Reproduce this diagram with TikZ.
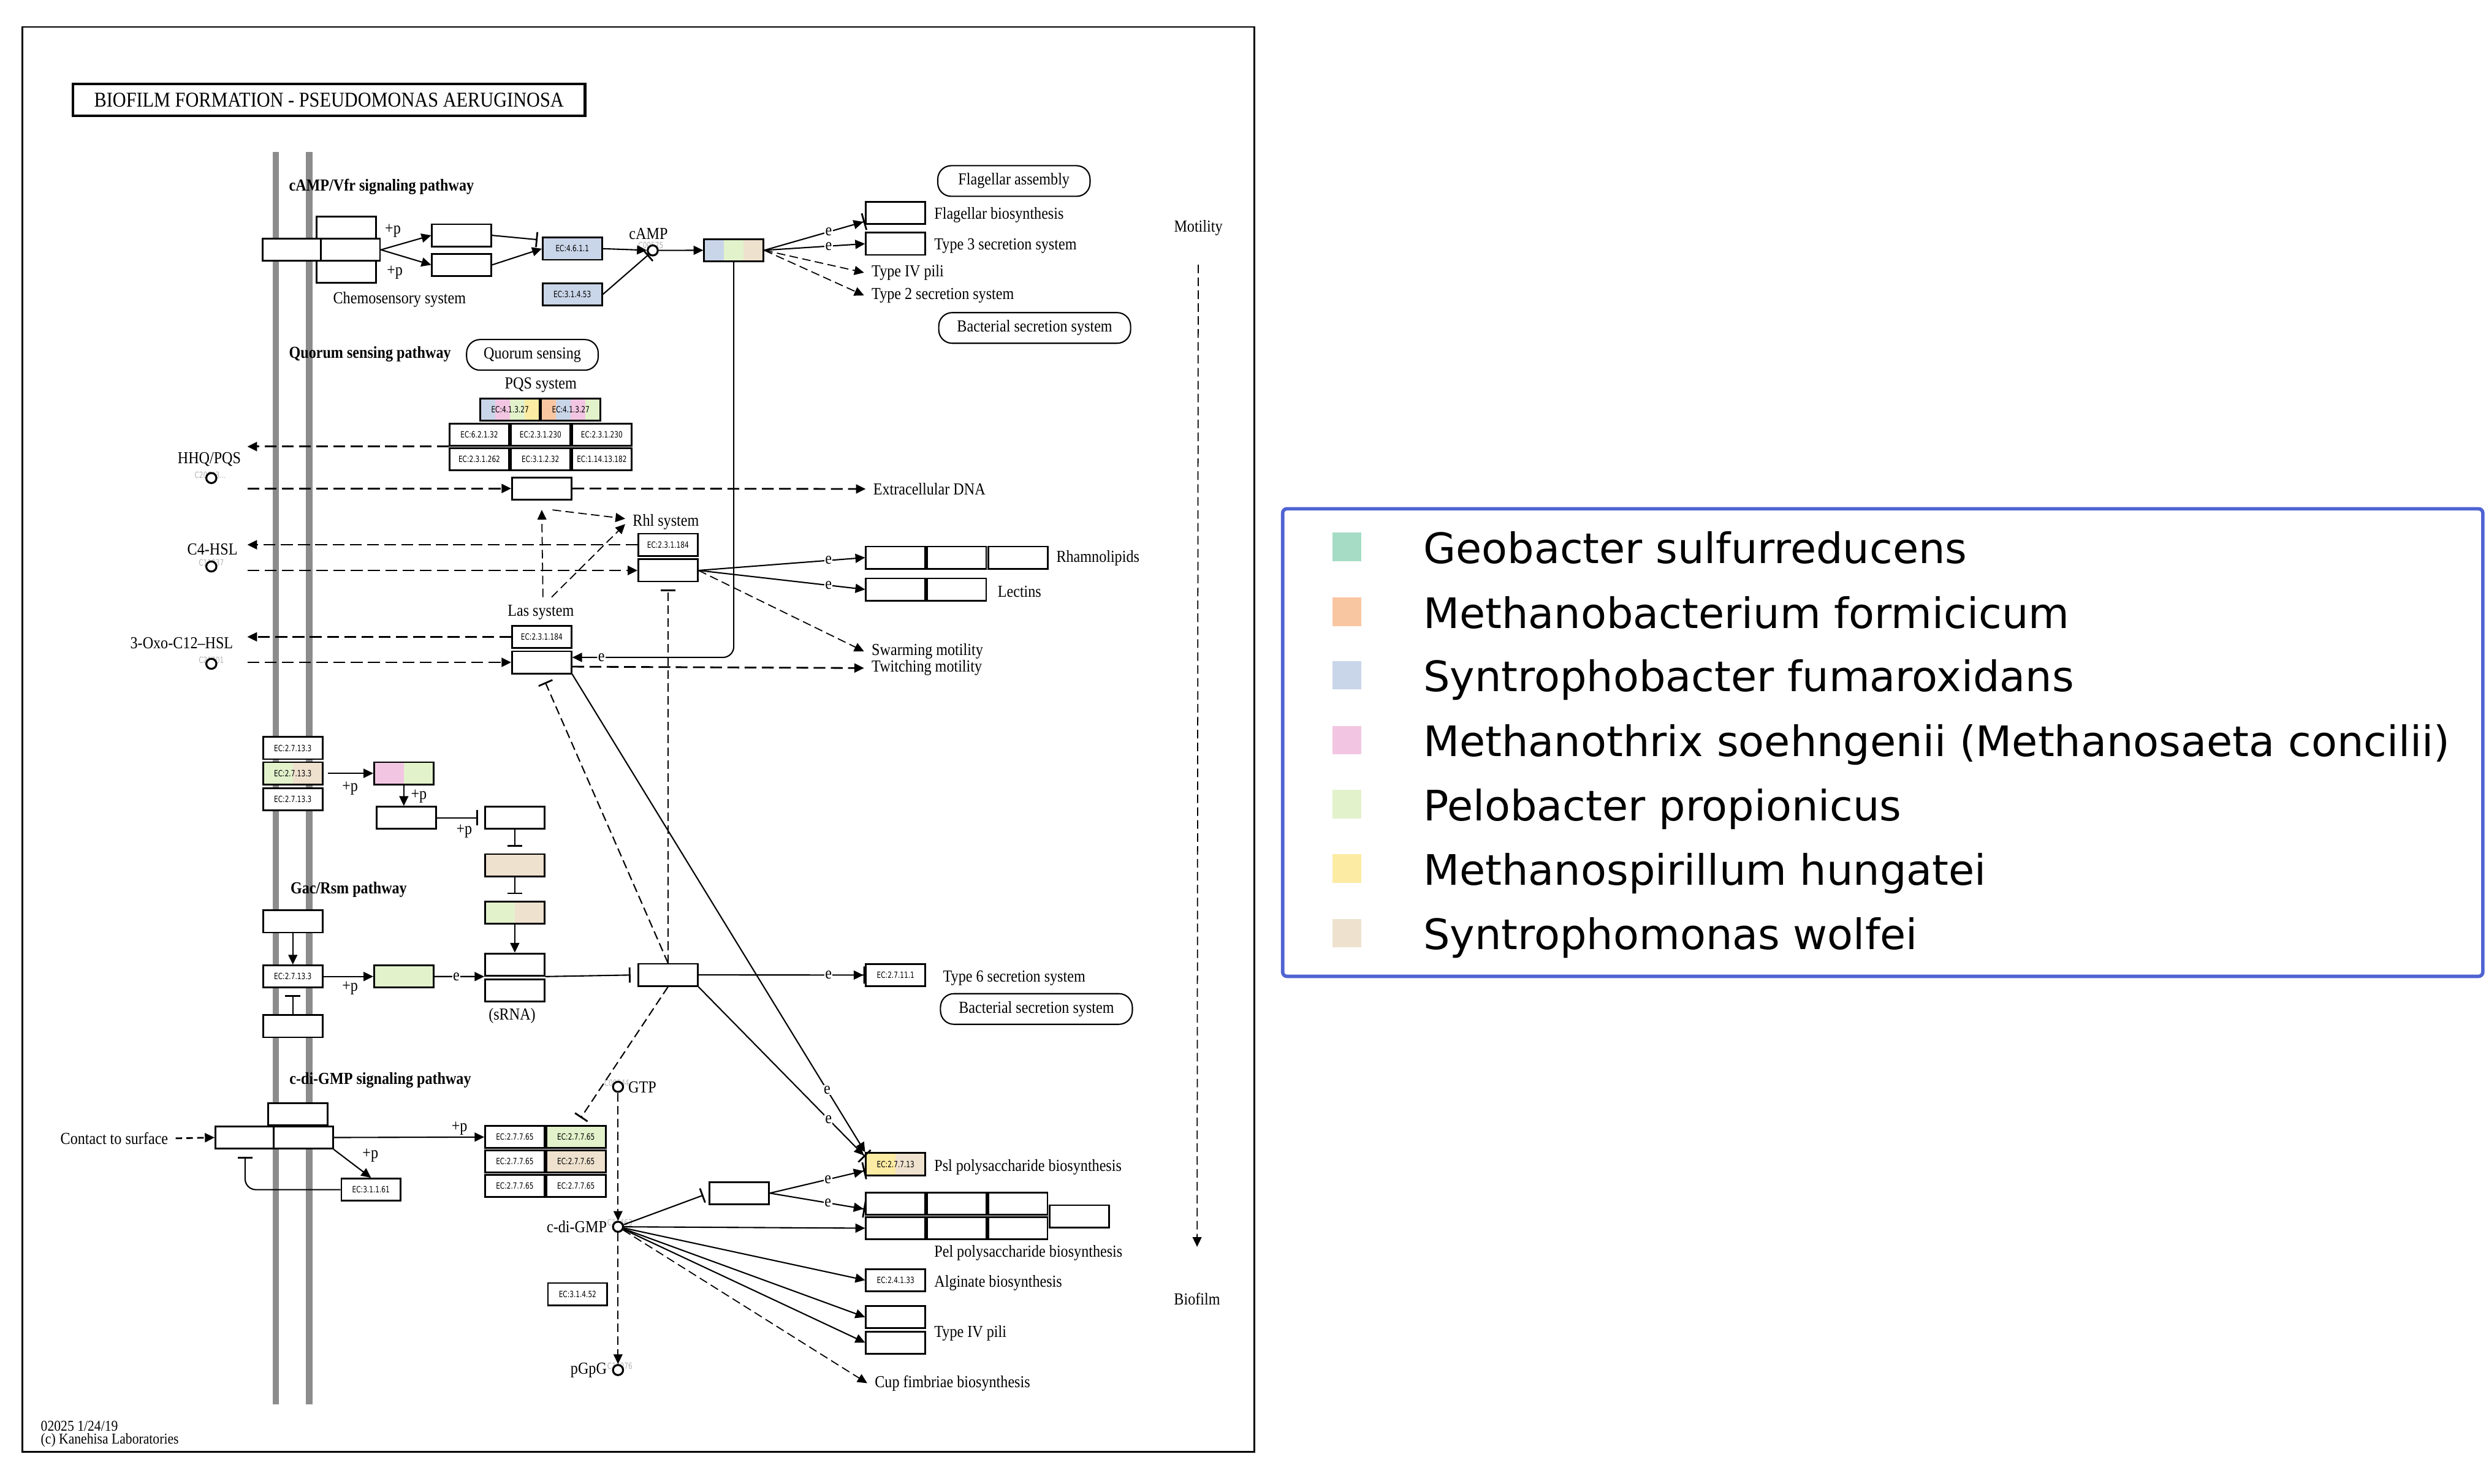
\documentclass[tikz,border=0pt]{standalone}
\usepackage{fontspec}
\setmainfont[FakeStretch=0.88]{Liberation Serif}
\newfontfamily\ecfamily[FakeStretch=0.75]{DejaVu Sans}
\newfontfamily\legfamily{DejaVu Sans}
\usetikzlibrary{arrows.meta,calc,positioning}

\newcommand{\kegg}{\fontsize{7.8}{9}\selectfont}
\newcommand{\keggb}{\fontsize{7.8}{9}\selectfont\bfseries}
\newcommand{\ecf}{\fontsize{4}{4.5}\selectfont\ecfamily}
\newcommand{\legf}{\fontsize{19.5}{22}\selectfont\legfamily}

\definecolor{gsu}{HTML}{A6DCC5}
\definecolor{mfi}{HTML}{F9C6A2}
\definecolor{sfu}{HTML}{C9D5E8}
\definecolor{mcj}{HTML}{F2C6E2}
\definecolor{ppd}{HTML}{E2F2CB}
\definecolor{mhu}{HTML}{FCEBA2}
\definecolor{swo}{HTML}{EEE1CE}
\definecolor{membgray}{HTML}{8C8C8C}
\definecolor{legblue}{HTML}{4F63D2}

\tikzset{
  gbox/.style={draw,line width=0.8pt,fill=white,minimum width=0.9675cm,minimum height=0.362cm,inner sep=0pt,font=\ecf},
  cpd/.style={circle,draw,line width=0.9pt,fill=white,minimum size=0.165cm,inner sep=0pt},
  pill/.style={draw,line width=0.6pt,rounded corners=0.22cm,minimum height=0.5cm,inner sep=2pt},
  memb/.style={draw=membgray,line width=3pt},
  act/.style={line width=0.6pt,-{Triangle[length=4.5pt,width=4.2pt]}},
  actbar/.style={line width=0.6pt,-{Triangle[length=4.5pt,width=4.2pt]Bar[width=8pt,line width=0.8pt]}},
  dact/.style={act,line width=0.8pt,dash pattern=on 5.5pt off 2.5pt},
  dactf/.style={act,line width=0.5pt,dash pattern=on 4pt off 2pt},
  inh/.style={line width=0.6pt,-{Bar[width=7pt,line width=0.8pt]}},
  dinh/.style={inh,dash pattern=on 4pt off 2pt},
  elab/.style={fill=white,inner sep=0.4pt,font=\kegg},
  cid/.style={font=\ecf,text=black!30,inner sep=0pt},
  swatch/.style={minimum size=0.466cm,inner sep=0pt},
  legtxt/.style={anchor=base west,font=\legf,inner sep=0pt},
  stripes/.style={path picture={
    \foreach \col [count=\k] in {#1} {\global\let\nstripe\k}
    \foreach \col [count=\k] in {#1} {
      \fill[\col] ($(path picture bounding box.south west)!{(\k-1)/\nstripe}!(path picture bounding box.south east)$)
        rectangle ($(path picture bounding box.north west)!{\k/\nstripe}!(path picture bounding box.north east)$);
    }}}
}

\begin{document}
\begin{tikzpicture}[x=0.02587cm,y=-0.02587cm,font=\kegg]
\useasboundingbox (0,0) rectangle (1568,936);
\draw[line width=0.8pt] (14,17) rectangle (791,916);
\node[draw,line width=1.3pt,minimum width=8.356cm,minimum height=0.517cm,font=\fontsize{9.8}{11}\selectfont] (title) at (207.5,63) {BIOFILM FORMATION - PSEUDOMONAS AERUGINOSA};
\draw[memb] (174,96) -- (174,886);
\draw[memb] (195,96) -- (195,886);

\node[anchor=west,font=\keggb] (camptitle) at (177.5,118) {cAMP/Vfr signaling pathway};
\node[gbox] (chu) at (218.5,143.5) {};
\node[gbox] (chl) at (218.5,171.5) {};
\node[gbox] (cha) at (184.5,157.6) {};
\node[gbox] (chb) at (221,157.6) {};
\node (chemo) at (252,189) {Chemosensory system};
\node[gbox] (chc) at (291.2,148.5) {};
\node[gbox] (chd) at (291.2,167.1) {};
\node (p1) at (247.8,145.7) {+p};
\node (p2) at (249,172) {+p};
\node[gbox,fill=sfu] (ac) at (361,156.9) {EC:4.6.1.1};
\node[gbox,fill=sfu] (pde) at (361,185.7) {EC:3.1.4.53};
\node[cid] (campid) at (410.5,154.6) {C00575};
\node[cpd] (camp) at (411.7,158) {};
\node (camplab) at (409,147.7) {cAMP};
\node[gbox,stripes={sfu,ppd,swo}] (vfr) at (462.8,157.9) {};
\draw[act] (chb.east) -- (chc.west);
\draw[act] (chb.east) -- (chd.west);
\draw[inh,shorten >=2pt] (chc.east) -- ([yshift=4pt]ac.west);
\draw[act] (chd.east) -- (ac.west);
\draw[act] (ac.east) -- (camp);
\draw[inh] (pde.east) -- (camp.south west);
\draw[act] (camp) -- (vfr.west);

\node[gbox] (flag) at (564.8,134.4) {};
\node[gbox] (t3ss) at (564.8,153.8) {};
\node[anchor=west] (flagt) at (584.5,135.5) {Flagellar biosynthesis};
\node[anchor=west] (t3sst) at (584.5,155.3) {Type 3 secretion system};
\node[anchor=west] (t4pt) at (545,172) {Type IV pili};
\node[anchor=west] (t2sst) at (545,186.4) {Type 2 secretion system};
\node[pill,minimum width=2.484cm] (flagas) at (639.5,114.2) {Flagellar assembly};
\node[pill,minimum width=3.13cm] (bss1) at (652.6,206.9) {Bacterial secretion system};
\draw[actbar] (vfr.east) -- ([yshift=-3.9pt]flag.west) node[elab,pos=0.64] {e};
\draw[act] (vfr.east) -- (t3ss.west) node[elab,pos=0.64] {e};
\draw[dactf] (vfr.east) -- (t4pt.west);
\draw[dactf] (vfr.east) -- (t2sst.west);
\node (mot) at (755.8,143.7) {Motility};
\node (bio) at (755,819.7) {Biofilm};
\draw[dactf,shorten <=10pt,shorten >=18pt] (mot) -- (bio);

\node[anchor=west,font=\keggb] (qstitle) at (177.5,223.4) {Quorum sensing pathway};
\node[pill,minimum width=2.147cm] (qs) at (335.8,223.9) {Quorum sensing};
\node (pqst) at (341.1,243) {PQS system};
\node[gbox,stripes={sfu,mcj,ppd,mhu}] (pqsa) at (321.7,258.4) {EC:4.1.3.27};
\node[gbox,stripes={mfi,sfu,mcj,ppd}] (pqsb) at (360,258.4) {EC:4.1.3.27};
\node[gbox] (g11) at (302.3,274.2) {EC:6.2.1.32};
\node[gbox] (g12) at (340.9,274.2) {EC:2.3.1.230};
\node[gbox] (g13) at (379.6,274.2) {EC:2.3.1.230};
\node[gbox] (g21) at (302.3,289.8) {EC:2.3.1.262};
\node[gbox] (g22) at (340.9,289.8) {EC:3.1.2.32};
\node[gbox] (g23) at (379.6,289.8) {EC:1.14.13.182};
\node[gbox] (pqsr) at (341.7,308.2) {};
\node[anchor=west] (edna) at (546,308.5) {Extracellular DNA};
\coordinate (lft) at (156,0);
\node (hhqt) at (132,289.8) {HHQ/PQS};
\node[cid] (hhqid) at (132.6,299.6) {C20643...};
\node[cpd] (hhq) at (133.3,301.6) {};
\draw[dact] (g11.south west) -- (g11.south west -| lft);
\draw[dact] (pqsr.west -| lft) -- (pqsr.west);
\draw[dact] (pqsr.east) -- (edna.west);

\node (rhlt) at (420,329.3) {Rhl system};
\node[gbox] (rhl1) at (421.3,343.7) {EC:2.3.1.184};
\node[gbox] (rhl2) at (421.3,359.9) {};
\node (c4t) at (134,346.6) {C4-HSL};
\node[cid] (c4id) at (133.3,355) {C11837};
\node[cpd] (c4) at (133.3,357.4) {};
\draw[dact] (rhl1.west) -- (rhl1.west -| lft);
\draw[dact] (rhl2.west -| lft) -- (rhl2.west);

\node (last) at (341.1,386.2) {Las system};
\node[gbox] (las1) at (341.7,401.8) {EC:2.3.1.184};
\node[gbox] (las2) at (341.7,417.9) {};
\node (oxot) at (114.6,405.8) {3-Oxo-C12--HSL};
\node[cid] (oxoid) at (133.3,416.4) {C21201};
\node[cpd] (oxo) at (133.3,418.8) {};
\draw[dact] (las1.west) -- (las1.west -| lft);
\draw[dact] (las2.west -| lft) -- (las2.west);
\draw[dactf] ([xshift=1pt]last.north) -- ([yshift=-4.4pt]pqsr.south);
\draw[dactf] ([xshift=5pt]last.north) -- ([yshift=-1pt]rhlt.west);
\draw[dactf] ([xshift=5pt,yshift=-4.4pt]pqsr.south) -- ([yshift=1.5pt]rhlt.west);

\node[gbox] (rh1) at (564.9,351.8) {};
\node[gbox] (rh2) at (603.3,351.8) {};
\node[gbox] (rh3) at (642.2,351.8) {};
\node[anchor=west] (rht) at (661.5,352) {Rhamnolipids};
\node[gbox] (le1) at (564.9,371.9) {};
\node[gbox] (le2) at (603.3,371.9) {};
\node[anchor=west] (let) at (624.5,373.4) {Lectins};
\node[anchor=west] (swt) at (545,411) {Swarming motility};
\node[anchor=west] (twt) at (545,421.5) {Twitching motility};
\draw[act] (rhl2.east) -- (rh1.west) node[elab,pos=0.78] {e};
\draw[act] (rhl2.east) -- (le1.west) node[elab,pos=0.78] {e};
\draw[dactf] (rhl2.east) -- (swt.west);
\draw[dact] ([yshift=-2pt]las2.east) -- (twt.west);
\draw[act,rounded corners=5pt] (vfr.south) |- ([yshift=2.3pt]las2.east) node[elab,pos=0.91] {e};

\node[gbox] (gk1) at (184.7,472) {EC:2.7.13.3};
\node[gbox,stripes={ppd,swo}] (gk2) at (184.7,487.9) {EC:2.7.13.3};
\node[gbox] (gk3) at (184.7,504.2) {EC:2.7.13.3};
\node[gbox,stripes={mcj,ppd}] (gpg) at (254.7,487.9) {};
\node[gbox] (gb1) at (256.3,516) {};
\node[gbox] (gb2) at (324.7,516) {};
\node[gbox,fill=swo] (gtan) at (324.7,545.9) {};
\node[gbox,stripes={ppd,swo}] (ggt) at (324.7,575.8) {};
\node[gbox] (srna1) at (324.7,608.6) {};
\node[gbox] (srna2) at (324.7,624.9) {};
\node (srnat) at (323,641) {(sRNA)};
\node[anchor=west,font=\keggb] (gactitle) at (178.5,561.2) {Gac/Rsm pathway};
\node[gbox] (gm1) at (184.7,581.4) {};
\node[gbox] (gk4) at (184.7,616.1) {EC:2.7.13.3};
\node[gbox] (gm2) at (184.7,647.5) {};
\node[gbox,fill=ppd] (ggr) at (254.7,616.1) {};
\node[gbox] (t6reg) at (421.3,615.1) {};
\node[gbox] (t6ec) at (564.9,615.2) {EC:2.7.11.1};
\node[anchor=west] (t6t) at (590,617) {Type 6 secretion system};
\node[pill,minimum width=3.13cm] (bss2) at (653.7,636.6) {Bacterial secretion system};
\node (p3) at (220.8,497.4) {+p};
\node (p4) at (264.2,502.5) {+p};
\node (p5) at (292.8,524.4) {+p};
\node (p6) at (220.8,623.6) {+p};
\draw[act] ([xshift=2pt]gk2.east) -- (gpg.west);
\draw[act] (gpg.south) -- (gpg.south |- gb1.north);
\draw[inh,shorten >=3pt] (gb1.east) -- (gb2.west);
\draw[inh,shorten >=3pt] (gb2.south) -- (gtan.north);
\draw[inh,shorten >=3pt] (gtan.south) -- (ggt.north);
\draw[act] (ggt.south) -- (srna1.north);
\draw[act] (gm1.south) -- (gk4.north);
\draw[inh,shorten >=3pt] (gm2.north) -- (gk4.south);
\draw[act] (gk4.east) -- (ggr.west);
\draw[act] (ggr.east) -- (srna1.south west) node[elab,pos=0.44] {e};
\draw[inh,shorten >=3.2pt] (srna1.south east) -- (t6reg.west);
\draw[actbar] (t6reg.east) -- (t6ec.west) node[elab,pos=0.78] {e};
\draw[dinh,shorten >=3.2pt] (t6reg.north) -- (rhl2.south);
\draw[dinh,shorten >=4pt] (t6reg.north) -- (las2.south);

\node[anchor=west,font=\keggb] (cdgtitle) at (177.8,681.7) {c-di-GMP signaling pathway};
\node[gbox] (cu) at (187.8,703) {};
\node[gbox] (cw1) at (154.6,717.7) {};
\node[gbox] (cw2) at (191.3,717.7) {};
\node[anchor=east] (cts) at (110.8,718.2) {Contact to surface};
\node[gbox] (dge) at (234,750.6) {EC:3.1.1.61};
\node[gbox] (dg11) at (324.7,717.4) {EC:2.7.7.65};
\node[gbox,fill=ppd] (dg12) at (363.3,717.4) {EC:2.7.7.65};
\node[gbox] (dg21) at (324.7,732.8) {EC:2.7.7.65};
\node[gbox,fill=swo] (dg22) at (363.3,732.8) {EC:2.7.7.65};
\node[gbox] (dg31) at (324.7,748.2) {EC:2.7.7.65};
\node[gbox] (dg32) at (363.3,748.2) {EC:2.7.7.65};
\node (p7) at (289.8,712.1) {+p};
\node (p8) at (233.6,729) {+p};
\node[cid] (gtpid) at (389,683.2) {C00044};
\node[cpd] (gtp) at (389.8,685.7) {};
\node[anchor=west] (gtpt) at (391.5,686) {GTP};
\node[cid] (cdgid) at (391,771.5) {C16463};
\node[cpd] (cdg) at (389.8,774) {};
\node[anchor=east] (cdgt) at (387.5,774) {c-di-GMP};
\node[cid] (pgpgid) at (391,862) {C18076};
\node[cpd] (pgpg) at (389.8,864.4) {};
\node[anchor=east] (pgpgt) at (387.5,864.4) {pGpG};
\node[gbox] (pde2) at (364.3,816.5) {EC:3.1.4.52};
\node[gbox] (ub) at (466.3,752.8) {};
\node[gbox,stripes={mhu,swo}] (psl) at (564.9,734.5) {EC:2.7.7.13};
\node[anchor=west] (pslt) at (584.5,736.4) {Psl polysaccharide biosynthesis};
\node[gbox] (pel11) at (564.9,759.5) {};
\node[gbox] (pel12) at (603.4,759.5) {};
\node[gbox] (pel13) at (642,759.5) {};
\node[gbox] (pel21) at (564.9,774.9) {};
\node[gbox] (pel22) at (603.4,774.9) {};
\node[gbox] (pel23) at (642,774.9) {};
\node[gbox] (pelx) at (680.7,767.4) {};
\node[anchor=west] (pelt) at (584.5,790.7) {Pel polysaccharide biosynthesis};
\node[gbox] (alg) at (564.9,807.7) {EC:2.4.1.33};
\node[anchor=west] (algt) at (584.5,809.5) {Alginate biosynthesis};
\node[gbox] (t4a) at (564.9,831) {};
\node[gbox] (t4b) at (564.9,847.1) {};
\node[anchor=west] (t4t) at (584.5,841) {Type IV pili};
\node[anchor=west] (cupt) at (547,872.7) {Cup fimbriae biosynthesis};
\draw[dact,dash pattern=on 3pt off 2pt] (cts.east) -- (cw1.west);
\draw[act] (cw2.east) -- (dg11.west);
\draw[act] (cw2.south east) -- (dge.north);
\draw[inh,rounded corners=5pt,shorten >=3.4pt] (dge.west) -| (cw1.south);
\draw[dactf] (gtp) -- (cdg);
\draw[dactf] (cdg) -- (pgpg);
\draw[dinh,shorten >=4pt] (t6reg.south) -- (dg12.north);
\draw[act] (las2.south east) -- (psl.north west) node[elab,pos=0.87] {e};
\draw[actbar] (t6reg.south east) -- ([yshift=3.5pt]psl.west) node[elab,pos=0.78] {e};
\draw[inh,shorten >=2.7pt] (cdg) -- (ub.west);
\draw[actbar] (ub.east) -- ([yshift=-3pt]psl.west) node[elab,pos=0.61] {e};
\draw[actbar] (ub.east) -- ([yshift=-2.5pt]pel11.west) node[elab,pos=0.61] {e};
\draw[act] (cdg) -- (pel21.west);
\draw[act] (cdg) -- (alg.west);
\draw[act] (cdg) -- (t4a.west);
\draw[act] (cdg) -- (t4b.west);
\draw[dactf] (cdg) -- (cupt.west);

\node[anchor=west,font=\fontsize{7}{8}\selectfont] (cr1) at (21,899.6) {02025 1/24/19};
\node[anchor=west,font=\fontsize{7}{8}\selectfont] (cr2) at (21,908.8) {(c) Kanehisa Laboratories};

\draw[draw=legblue,line width=1.6pt,rounded corners=2pt] (809,321) rectangle (1566,616);
\node[swatch,fill=gsu] (sw1) at (849.5,345) {};
\node[swatch,fill=mfi] (sw2) at (849.5,386) {};
\node[swatch,fill=sfu] (sw3) at (849.5,426) {};
\node[swatch,fill=mcj] (sw4) at (849.5,467) {};
\node[swatch,fill=ppd] (sw5) at (849.5,507.3) {};
\node[swatch,fill=mhu] (sw6) at (849.5,548) {};
\node[swatch,fill=swo] (sw7) at (849.5,588.7) {};
\node[legtxt] (lt1) at (897.5,355.4) {Geobacter sulfurreducens};
\node[legtxt] (lt2) at (897.5,396.4) {Methanobacterium formicicum};
\node[legtxt] (lt3) at (897.5,436.4) {Syntrophobacter fumaroxidans};
\node[legtxt] (lt4) at (897.5,477.4) {Methanothrix soehngenii (Methanosaeta concilii)};
\node[legtxt] (lt5) at (897.5,517.7) {Pelobacter propionicus};
\node[legtxt] (lt6) at (897.5,558.4) {Methanospirillum hungatei};
\node[legtxt] (lt7) at (897.5,599.1) {Syntrophomonas wolfei};
\end{tikzpicture}
\end{document}
